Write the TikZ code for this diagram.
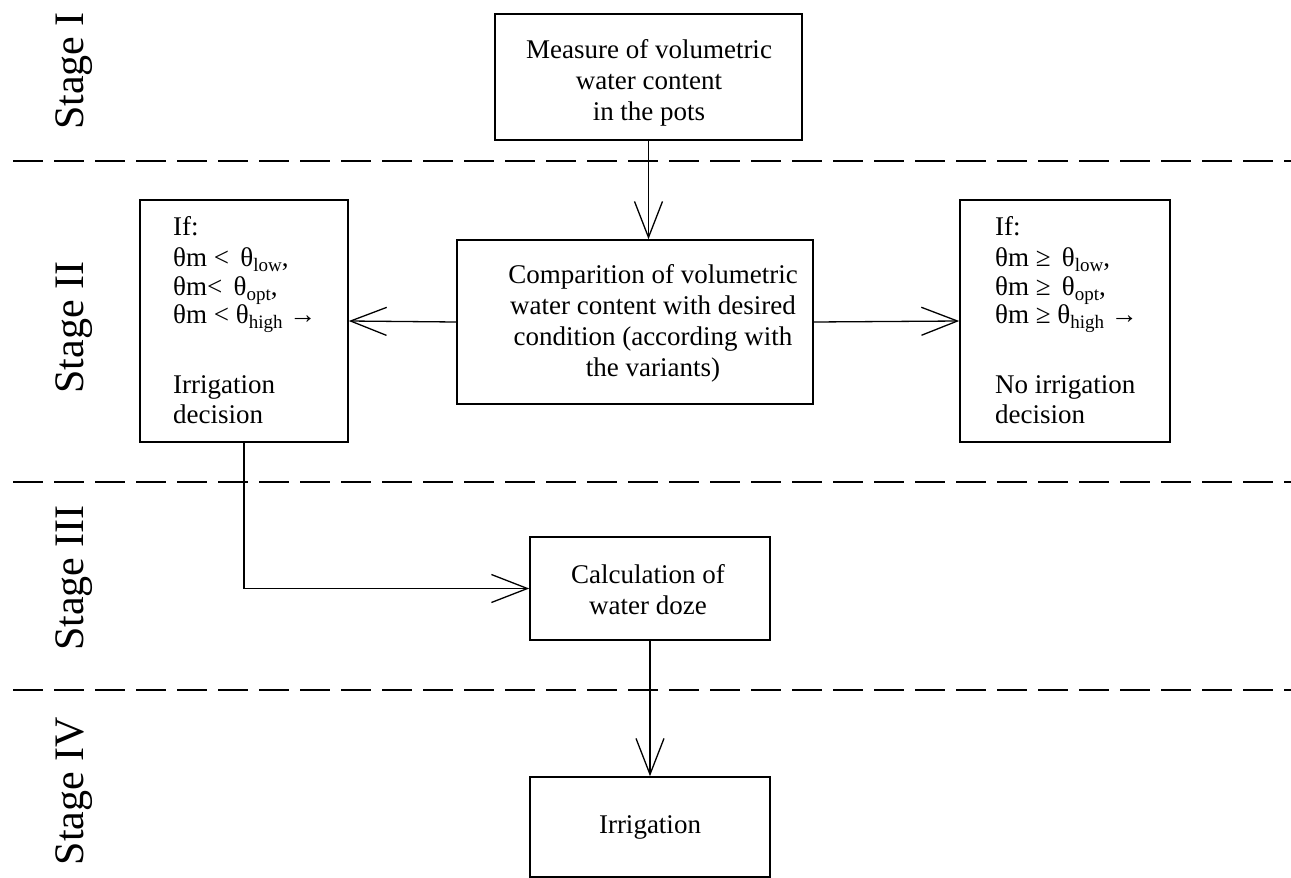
\documentclass[tikz,border=0pt]{standalone}
\usepackage{fontspec}
\setmainfont{Liberation Serif}
\usetikzlibrary{arrows.meta}
\tikzset{
  box/.style={draw, line width=1.6pt, inner sep=0pt},
  txt/.style={font=\fontsize{27}{31}\selectfont, align=center, inner sep=0pt},
  ln/.style={font=\fontsize{27}{31}\selectfont, anchor=base west, inner sep=0pt},
  conn/.style={line width=1.3pt, -{Straight Barb[length=36pt,width=28pt,line width=1.3pt]}},
  sep/.style={line width=1.4pt, dash pattern=on 30pt off 11pt},
  stagelbl/.style={rotate=90, anchor=base, inner sep=0pt, font=\fontsize{42}{42}\selectfont}
}
\newcommand{\thm}{θm}
\newcommand{\sbs}[1]{\raisebox{-5pt}{\fontsize{19}{19}\selectfont #1}}
\begin{document}
\begin{tikzpicture}[x=1pt,y=-1pt]
\useasboundingbox (0,0) rectangle (1291,878);
% separators
\coordinate (s1a) at (13,161); \coordinate (s1b) at (1291,161);
\coordinate (s2a) at (13,482); \coordinate (s2b) at (1291,482);
\coordinate (s3a) at (13,690); \coordinate (s3b) at (1291,690);
\draw[sep] (s1a) -- (s1b);
\draw[sep] (s2a) -- (s2b);
\draw[sep] (s3a) -- (s3b);
% stage labels
\node[stagelbl] (st1) at (83,71) {Stage I};
\node[stagelbl] (st2) at (83,327.5) {Stage II};
\node[stagelbl] (st3) at (83,578) {Stage III};
\node[stagelbl] (st4) at (83,791) {Stage IV};
% boxes
\node[box, minimum width=307pt, minimum height=126pt] (measure) at (648.5,77) {};
\node[txt] (measuret) at (649,83) {Measure of volumetric\\water content\\in the pots};
\node[box, minimum width=356pt, minimum height=164pt] (compare) at (635,322) {};
\node[txt] (comparet) at (653,323) {Comparition of volumetric\\water content with desired\\condition (according with\\the variants)};
\node[box, minimum width=208pt, minimum height=242pt] (left) at (244,321) {};
\node[ln] (l1) at (173,235) {If:};
\node[ln] (l2) at (173,266) {\thm{} <\, θ\sbs{low},};
\node[ln] (l3) at (173,295) {\thm< \,θ\sbs{opt},};
\node[ln] (l4) at (173,323) {\thm{} < θ\sbs{high} →};
\node[ln] (l5) at (173,393) {Irrigation};
\node[ln] (l6) at (173,423) {decision};
\node[box, minimum width=210pt, minimum height=242pt] (right) at (1065,321) {};
\node[ln] (r1) at (995,235) {If:};
\node[ln] (r2) at (995,266) {\thm{} ≥\, θ\sbs{low},};
\node[ln] (r3) at (995,295) {\thm{} ≥\, θ\sbs{opt},};
\node[ln] (r4) at (995,323) {\thm{} ≥ θ\sbs{high} →};
\node[ln] (r5) at (995,393) {No irrigation};
\node[ln] (r6) at (995,423) {decision};
\node[box, minimum width=240pt, minimum height=103pt] (calc) at (650,588.5) {};
\node[txt] (calct) at (648,589.5) {Calculation of\\water doze};
\node[box, minimum width=240pt, minimum height=100pt] (irr) at (650,827) {};
\node[ln, anchor=base] (irrt) at (650,833) {Irrigation};
% connectors
\draw[conn] (measure.south) -- (measure.south |- compare.north);
\draw[conn] (compare.west) -- (left.east);
\draw[conn] (compare.east) -- (right.west);
\draw[conn] (left.south) |- (calc.west);
\draw[conn] (calc.south) -- (irr.north);
\end{tikzpicture}
\end{document}
